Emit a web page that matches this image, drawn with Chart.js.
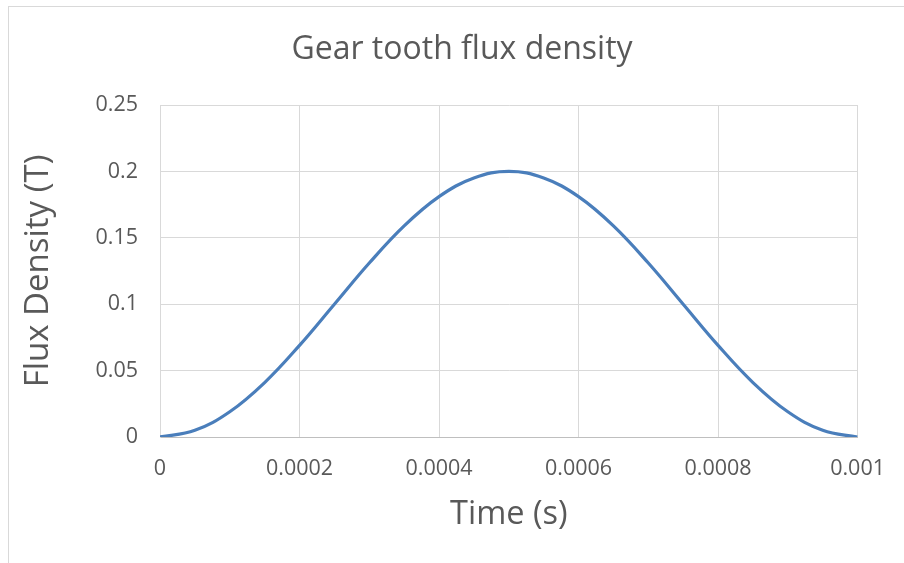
<!DOCTYPE html>
<html>
<head>
<meta charset="utf-8">
<script src="https://cdn.jsdelivr.net/npm/chart.js@4"></script>
<style>
  html, body { margin: 0; padding: 0; background: #fff; }
  #wrap { position: relative; width: 904px; height: 563px; overflow: hidden; }
  #frame { position: absolute; left: 8px; top: 6px; width: 1000px; height: 1000px; border: 1px solid #d9d9d9; box-sizing: border-box; }
  canvas { position: absolute; left: 0; top: 0; }
</style>
</head>
<body>
<div id="wrap">
  <div id="frame"></div>
  <canvas id="chart" width="904" height="563"></canvas>
</div>
<script>
// time (s) and flux density (T)
const times = [0, 0.00005, 0.0001, 0.00015, 0.0002, 0.00025, 0.0003, 0.00035, 0.0004, 0.00045, 0.0005,
  0.00055, 0.0006, 0.00065, 0.0007, 0.00075, 0.0008, 0.00085, 0.0009, 0.00095, 0.001];
const flux = [0, 0.005, 0.019, 0.041, 0.069, 0.1, 0.131, 0.159, 0.181, 0.195, 0.2,
  0.195, 0.181, 0.159, 0.131, 0.1, 0.069, 0.041, 0.019, 0.005, 0];
const xTicks = [0, 0.0002, 0.0004, 0.0006, 0.0008, 0.001];
const yTicks = [0, 0.05, 0.1, 0.15, 0.2, 0.25];

const chartTitle = 'Gear tooth flux density';
const textColor = '#595959';
const fontFamily = '"Open Sans", sans-serif';

// the title is centred on the whole (clipped) chart frame, not the plot
const titlePlugin = {
  id: 'frameTitle',
  afterDraw(chart) {
    const ctx = chart.ctx;
    ctx.save();
    ctx.fillStyle = textColor;
    ctx.font = '32px ' + fontFamily;
    ctx.textAlign = 'center';
    ctx.textBaseline = 'middle';
    ctx.fillText(chartTitle, 462, 50);
    ctx.restore();
  }
};

new Chart(document.getElementById('chart'), {
  type: 'line',
  data: {
    datasets: [{
      data: times.map((t, i) => ({ x: t, y: flux[i] })),
      borderColor: '#4a7ebb',
      borderWidth: 3.2,
      pointRadius: 0,
      tension: 0.4,
      fill: false
    }]
  },
  options: {
    responsive: false,
    animation: false,
    layout: { padding: { left: 17, right: 44, top: 105, bottom: 0 } },
    plugins: {
      legend: { display: false },
      tooltip: { enabled: false },
      title: { display: false }
    },
    scales: {
      x: {
        type: 'linear',
        min: 0,
        max: 0.001,
        afterBuildTicks: (s) => { s.ticks = xTicks.map((v) => ({ value: v })); },
        afterFit: (s) => { s.height = 126; },
        ticks: {
          color: textColor,
          font: { family: fontFamily, size: 21.5 },
          padding: 19,
          maxRotation: 0,
          callback: (v) => String(v)
        },
        grid: { color: '#d9d9d9', lineWidth: 1, drawTicks: false },
        border: { color: '#bfbfbf', width: 1 },
        title: {
          display: true,
          text: 'Time (s)',
          color: textColor,
          font: { family: fontFamily, size: 32.5 },
          padding: { top: 0, bottom: 29 }
        }
      },
      y: {
        min: 0,
        max: 0.25,
        afterBuildTicks: (s) => { s.ticks = yTicks.map((v) => ({ value: v })); },
        afterFit: (s) => { s.width = 143; },
        ticks: {
          color: textColor,
          font: { family: fontFamily, size: 21.5 },
          padding: 22,
          callback: (v) => String(v)
        },
        grid: { color: '#d9d9d9', lineWidth: 1, drawTicks: false },
        border: { color: '#d9d9d9', width: 1 },
        title: {
          display: true,
          text: 'Flux Density (T)',
          color: textColor,
          font: { family: fontFamily, size: 33 },
          padding: { top: 2, bottom: 0 }
        }
      }
    }
  },
  plugins: [titlePlugin]
});
</script>
</body>
</html>
